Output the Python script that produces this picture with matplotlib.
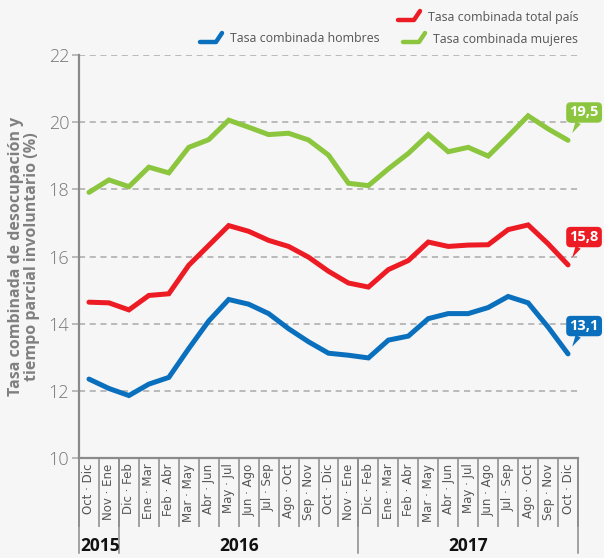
import numpy as np
import matplotlib
matplotlib.use('Agg')
import matplotlib.pyplot as plt
from matplotlib.lines import Line2D
import matplotlib.transforms as mtransforms

# Data
categories = ['Oct · Dic', 'Nov · Ene', 'Dic · Feb', 'Ene · Mar', 'Feb · Abr', 'Mar · May',
              'Abr · Jun', 'May · Jul', 'Jun · Ago', 'Jul · Sep', 'Ago · Oct', 'Sep · Nov',
              'Oct · Dic', 'Nov · Ene', 'Dic · Feb', 'Ene · Mar', 'Feb · Abr', 'Mar · May',
              'Abr · Jun', 'May · Jul', 'Jun · Ago', 'Jul · Sep', 'Ago · Oct', 'Sep · Nov',
              'Oct · Dic']
years = ['2015', '2016', '2017']
year_counts = [2, 12, 11]

mujeres = [17.91, 18.28, 18.08, 18.66, 18.49, 19.25, 19.48, 20.06, 19.85, 19.63, 19.67,
           19.47, 19.02, 18.18, 18.11, 18.61, 19.07, 19.63, 19.12, 19.25, 18.99, 19.58,
           20.19, 19.80, 19.46]
total = [14.64, 14.62, 14.41, 14.84, 14.89, 15.74, 16.33, 16.92, 16.75, 16.48, 16.30,
         15.98, 15.56, 15.21, 15.09, 15.61, 15.88, 16.43, 16.30, 16.34, 16.35, 16.80,
         16.94, 16.38, 15.75]
hombres = [12.35, 12.07, 11.86, 12.20, 12.40, 13.26, 14.08, 14.72, 14.58, 14.30, 13.85,
           13.46, 13.12, 13.06, 12.98, 13.51, 13.63, 14.15, 14.30, 14.30, 14.48, 14.81,
           14.62, 13.90, 13.10]
end_labels = ['19,5', '15,8', '13,1']

green = '#8cc63f'
red = '#ed1c24'
blue = '#0a70bd'
bg = '#f6f6f6'

plt.rcParams['font.family'] = ['Open Sans', 'DejaVu Sans']

fig = plt.figure(figsize=(6.04, 5.58), dpi=100, facecolor=bg)
ax = fig.add_axes([79 / 604, 100 / 558, 499 / 604, 403 / 558], facecolor=bg)

x = np.arange(len(categories))
series = [(mujeres, green), (total, red), (hombres, blue)]
for vals, col in series:
    ax.plot(x, vals, color=col, lw=3.6, solid_capstyle='round', solid_joinstyle='miter', zorder=3)

ax.set_xlim(-0.5, len(categories) - 0.5)
ax.set_ylim(10, 22)
ax.set_yticks(np.arange(10, 23, 2))
ax.yaxis.grid(True, ls=(0, (4, 3)), color='#aaaaaa', lw=1.1)
ax.set_axisbelow(True)
for s in ['top', 'right']:
    ax.spines[s].set_visible(False)
for s in ['left', 'bottom']:
    ax.spines[s].set_color('#8a8a8a')
    ax.spines[s].set_linewidth(1.6)
ax.tick_params(axis='y', length=5, width=1.1, color='#aaaaaa', labelsize=13,
               labelcolor='#777777', pad=2)
for lab in ax.get_yticklabels():
    lab.set_fontweight('light')

# x axis: category labels and separators
ax.set_xticks(x)
ax.set_xticklabels(categories, rotation=90, fontsize=8.5, color='#555555',
                   family=['Liberation Sans Narrow', 'DejaVu Sans'], va='top')
ax.tick_params(axis='x', length=0, pad=4)
ax.set_xticks(np.arange(-0.5, len(categories), 1), minor=True)
ax.tick_params(axis='x', which='minor', length=50, width=1.1, color='#8a8a8a')

trans = mtransforms.blended_transform_factory(ax.transData, ax.transAxes)
bounds = np.concatenate([[0], np.cumsum(year_counts)]) - 0.5
for b in bounds:
    ax.plot([b, b], [0, -95 / 403], transform=trans, color='#8a8a8a', lw=1.1, clip_on=False)
for i, yr in enumerate(years):
    if i == 0:
        ax.text(bounds[i] + 0.05, -88 / 403, yr, transform=trans, ha='left', va='center',
                fontsize=12.5, fontweight='bold', color='#111111')
    else:
        ax.text((bounds[i] + bounds[i + 1]) / 2, -88 / 403, yr, transform=trans, ha='center',
                va='center', fontsize=12.5, fontweight='bold', color='#111111')

ax.set_ylabel('Tasa combinada de desocupación y\ntiempo parcial involuntario (%)',
              fontsize=11.5, fontweight='bold', color='#808080', labelpad=6, linespacing=1.0)

# end labels
for (vals, col), lab in zip(series, end_labels):
    ax.annotate(lab, xy=(x[-1], vals[-1]), xytext=(1, 15), textcoords='offset points',
                ha='left', va='bottom', fontsize=10.5, fontweight='bold', color='white',
                bbox=dict(boxstyle='round,pad=0.22,rounding_size=0.3', fc=col, ec='none'),
                arrowprops=dict(arrowstyle='wedge,tail_width=0.4', fc=col, ec='none',
                                shrinkA=0, shrinkB=6),
                annotation_clip=False, zorder=5)

# legend
legend_items = [('Tasa combinada total país', red, 398, 17),
                ('Tasa combinada hombres', blue, 200, 39),
                ('Tasa combinada mujeres', green, 403, 39)]
W, H = 604, 558
for text, col, px, py in legend_items:
    xs = np.array([px, px + 16, px + 22]) / W
    ys = 1 - np.array([py + 3, py + 3, py - 6]) / H
    fig.add_artist(Line2D(xs, ys, color=col, lw=3.2, solid_capstyle='round'))
    fig.text((px + 30) / W, 1 - py / H, text, fontsize=8.9, color='#555555',
             ha='left', va='center')

fig.savefig('out.png', dpi=100, facecolor=bg)
